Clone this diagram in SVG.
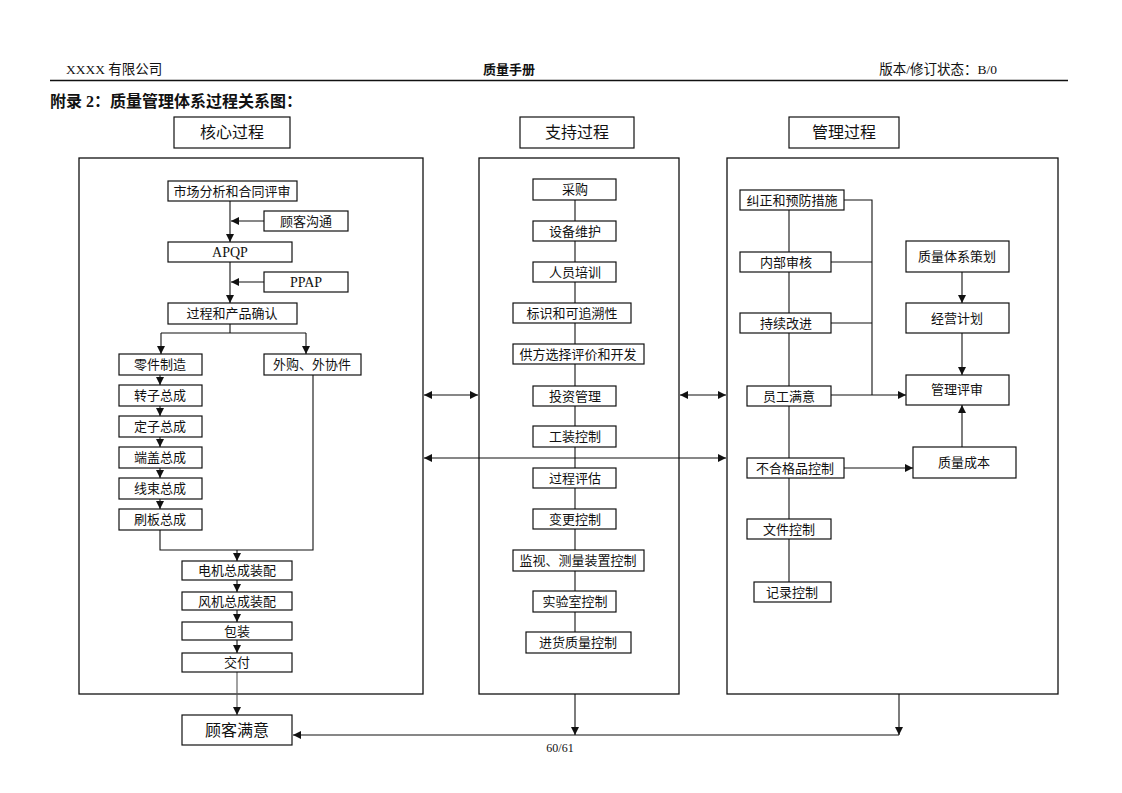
<svg xmlns="http://www.w3.org/2000/svg" width="1122" height="793" viewBox="0 0 1122 793">
<style>
text{font-family:"Liberation Serif","Noto Sans CJK SC",serif;fill:#111}
.b rect{fill:#fff;stroke:#111;stroke-width:1.2}
.b text{font-size:13px;text-anchor:middle}
.b text.l{font-size:14px}
.h text{font-size:16px}
.c{fill:none;stroke:#111;stroke-width:1.3}
.k path{fill:none;stroke:#111;stroke-width:1.1}
.a{marker-end:url(#ar)}
.d{marker-end:url(#ar);marker-start:url(#ar)}
</style>
<defs>
<marker id="ar" viewBox="0 0 8 8" refX="8" refY="4" markerWidth="8" markerHeight="8" markerUnits="userSpaceOnUse" orient="auto-start-reverse"><path d="M0,0 L8,4 L0,8 z" fill="#111"/></marker>
</defs>
<rect width="1122" height="793" fill="#fff"/>
<g id="header">
<text x="66" y="74" font-size="13.5">XXXX 有限公司</text>
<text x="509" y="74" font-size="13" font-weight="bold" text-anchor="middle">质量手册</text>
<text x="997" y="74" font-size="13.5" text-anchor="end">版本/修订状态：B/0</text>
<path d="M50,80.5 H1068" stroke="#111" stroke-width="1.3"/>
<text x="50" y="107" font-size="16" font-weight="bold">附录 2：质量管理体系过程关系图：</text>
<text x="560" y="752" font-size="12" text-anchor="middle">60/61</text>
</g>
<g id="containers">
<rect class="c" x="79" y="158" width="344" height="536"/>
<rect class="c" x="479" y="158" width="200" height="536"/>
<rect class="c" x="727" y="158" width="331" height="536"/>
</g>
<g id="connectors" class="k">
<path class="a" d="M230,201 V242"/>
<path class="a" d="M264,221 H231"/>
<path class="a" d="M230,262 V303"/>
<path class="a" d="M264,282 H231"/>
<path d="M230,324 V333 M161,333 H306"/>
<path class="a" d="M161,333 V354"/>
<path class="a" d="M306,333 V354"/>
<path class="a" d="M160,375 V385"/>
<path class="a" d="M160,406 V416"/>
<path class="a" d="M160,437 V447"/>
<path class="a" d="M160,468 V478"/>
<path class="a" d="M160,499 V509"/>
<path d="M160,530 V550 H313 V375"/>
<path class="a" d="M237,550 V561"/>
<path class="a" d="M237,580 V592"/>
<path class="a" d="M237,610 V622"/>
<path class="a" d="M237,640 V653"/>
<path class="a" d="M237,672 V715" style="stroke:#555"/>
<path class="a" d="M575,694 V735"/>
<path class="a" d="M899,694 V735"/>
<path class="a" d="M899,735 H293"/>
<path class="d" d="M424,395 H478"/>
<path class="d" d="M680,395 H726"/>
<path class="d" d="M424,458 H726"/>
<path d="M575,200 V632"/>
<path d="M789,210 V582"/>
<path d="M844,200 H872 V395 M831,262 H872 M831,323 H872"/>
<path class="a" d="M831,395 H906"/>
<path class="a" d="M962,272 V303"/>
<path class="a" d="M962,333 V375"/>
<path class="a" d="M962,447 V405"/>
<path class="a" d="M844,468 H913"/>
</g>
<g id="labels" class="b h">
<g id="n-core"><rect x="174" y="117" width="116" height="31"/><text x="232" y="138">核心过程</text></g>
<g id="n-support"><rect x="520" y="117" width="114" height="31"/><text x="577" y="138">支持过程</text></g>
<g id="n-manage"><rect x="789" y="117" width="110" height="31"/><text x="844" y="138">管理过程</text></g>
</g>
<g class="b">
<g id="n1"><rect x="168" y="181" width="129" height="20"/><text x="232" y="196">市场分析和合同评审</text></g>
<g id="n2"><rect x="264" y="211" width="84" height="20"/><text x="306" y="226">顾客沟通</text></g>
<g id="n3"><rect x="168" y="242" width="124" height="20"/><text class="l" x="230" y="257">APQP</text></g>
<g id="n4"><rect x="264" y="272" width="84" height="20"/><text class="l" x="306" y="287">PPAP</text></g>
<g id="n5"><rect x="168" y="303" width="129" height="21"/><text x="232" y="318">过程和产品确认</text></g>
<g id="n6"><rect x="119" y="354" width="83" height="21"/><text x="160" y="369">零件制造</text></g>
<g id="n7"><rect x="264" y="354" width="97" height="21"/><text x="312" y="369">外购、外协件</text></g>
<g id="n8"><rect x="119" y="385" width="83" height="21"/><text x="160" y="400">转子总成</text></g>
<g id="n9"><rect x="119" y="416" width="83" height="21"/><text x="160" y="431">定子总成</text></g>
<g id="n10"><rect x="119" y="447" width="83" height="21"/><text x="160" y="462">端盖总成</text></g>
<g id="n11"><rect x="119" y="478" width="83" height="21"/><text x="160" y="493">线束总成</text></g>
<g id="n12"><rect x="119" y="509" width="83" height="21"/><text x="160" y="524">刷板总成</text></g>
<g id="n13"><rect x="182" y="561" width="110" height="19"/><text x="237" y="575">电机总成装配</text></g>
<g id="n14"><rect x="182" y="592" width="110" height="18"/><text x="237" y="606">风机总成装配</text></g>
<g id="n15"><rect x="182" y="622" width="110" height="18"/><text x="237" y="636">包装</text></g>
<g id="n16"><rect x="182" y="653" width="110" height="19"/><text x="237" y="667">交付</text></g>
<g id="n17" class="h"><rect x="182" y="715" width="110" height="30"/><text x="237" y="736">顾客满意</text></g>
<g id="m1"><rect x="533" y="179" width="83" height="21"/><text x="575" y="194">采购</text></g>
<g id="m2"><rect x="533" y="221" width="83" height="20"/><text x="575" y="236">设备维护</text></g>
<g id="m3"><rect x="533" y="262" width="83" height="20"/><text x="575" y="277">人员培训</text></g>
<g id="m4"><rect x="513" y="303" width="118" height="20"/><text x="572" y="318">标识和可追溯性</text></g>
<g id="m5"><rect x="513" y="344" width="131" height="20"/><text x="578" y="359">供方选择评价和开发</text></g>
<g id="m6"><rect x="533" y="386" width="83" height="20"/><text x="575" y="401">投资管理</text></g>
<g id="m7"><rect x="533" y="426" width="83" height="21"/><text x="575" y="441">工装控制</text></g>
<g id="m8"><rect x="533" y="468" width="83" height="20"/><text x="575" y="483">过程评估</text></g>
<g id="m9"><rect x="533" y="509" width="83" height="20"/><text x="575" y="524">变更控制</text></g>
<g id="m10"><rect x="513" y="550" width="131" height="21"/><text x="578" y="565">监视、测量装置控制</text></g>
<g id="m11"><rect x="533" y="591" width="83" height="21"/><text x="575" y="606">实验室控制</text></g>
<g id="m12"><rect x="526" y="632" width="105" height="21"/><text x="578" y="647">进货质量控制</text></g>
<g id="r1"><rect x="740" y="190" width="104" height="20"/><text x="792" y="205">纠正和预防措施</text></g>
<g id="r2"><rect x="740" y="252" width="91" height="20"/><text x="786" y="267">内部审核</text></g>
<g id="r3"><rect x="740" y="313" width="91" height="20"/><text x="786" y="328">持续改进</text></g>
<g id="r4"><rect x="747" y="386" width="84" height="20"/><text x="789" y="401">员工满意</text></g>
<g id="r5"><rect x="747" y="458" width="97" height="20"/><text x="795" y="473">不合格品控制</text></g>
<g id="r6"><rect x="747" y="519" width="84" height="20"/><text x="789" y="534">文件控制</text></g>
<g id="r7"><rect x="754" y="582" width="77" height="20"/><text x="792" y="597">记录控制</text></g>
<g id="r8"><rect x="906" y="241" width="103" height="31"/><text x="957" y="261">质量体系策划</text></g>
<g id="r9"><rect x="906" y="303" width="103" height="30"/><text x="957" y="323">经营计划</text></g>
<g id="r10"><rect x="906" y="375" width="103" height="30"/><text x="957" y="394">管理评审</text></g>
<g id="r11"><rect x="913" y="447" width="103" height="31"/><text x="964" y="467">质量成本</text></g>
</g>
</svg>
